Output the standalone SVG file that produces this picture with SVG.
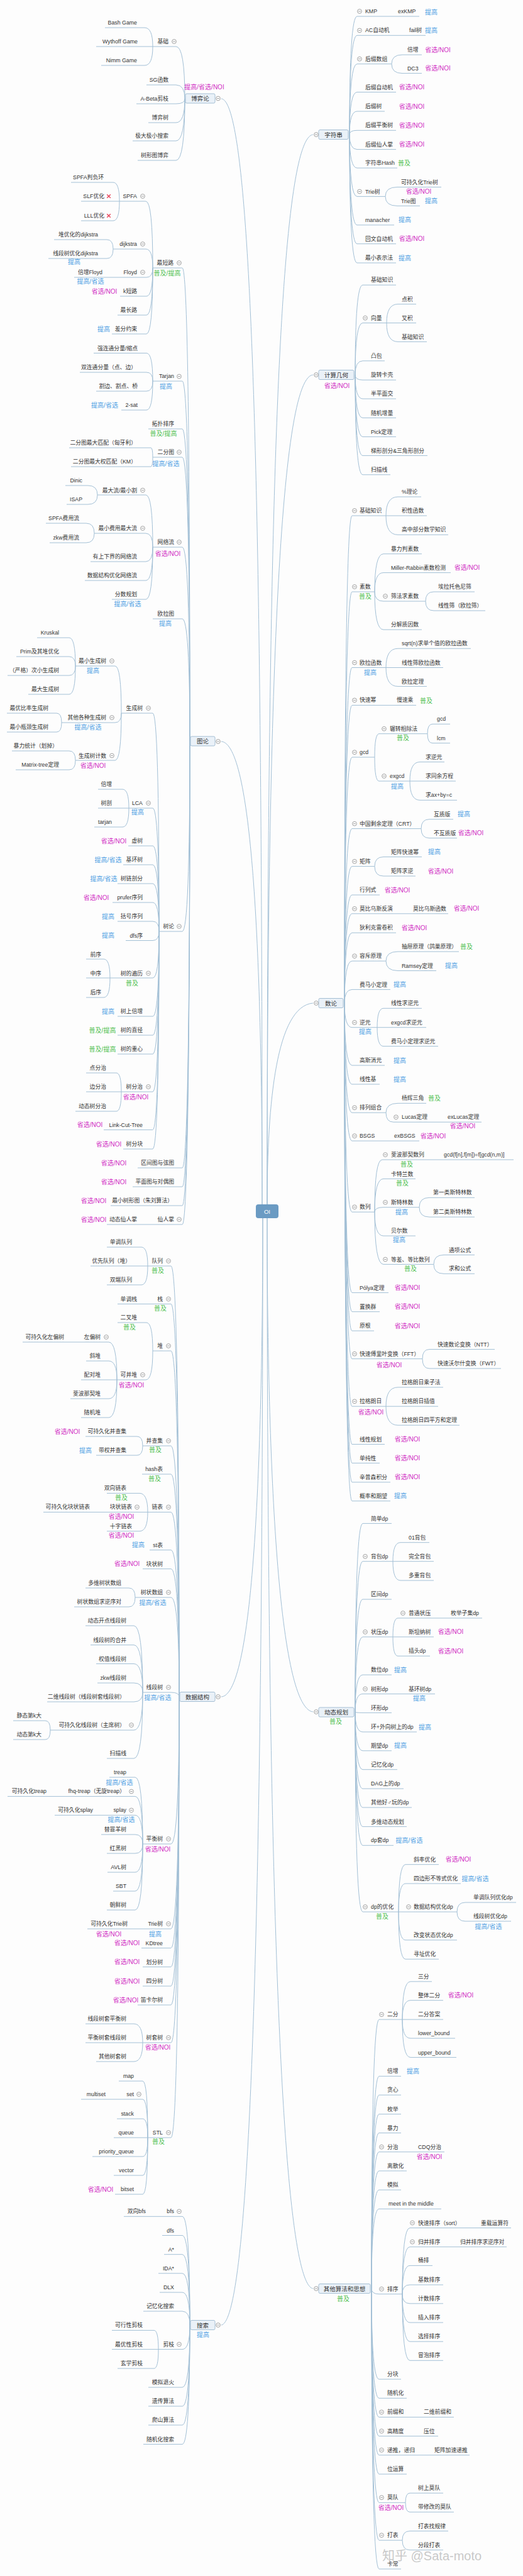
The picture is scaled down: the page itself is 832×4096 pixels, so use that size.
<svg xmlns="http://www.w3.org/2000/svg" xmlns:xlink="http://www.w3.org/1999/xlink" width="832" height="4096" viewBox="0 0 832 4096">
<style>
.t{font-family:"Liberation Sans","Noto Sans CJK SC",sans-serif;font-size:8.8px;fill:#333}
.e{text-anchor:end}
.k{font-family:"Liberation Sans","Noto Sans CJK SC",sans-serif;font-size:10px;text-anchor:middle}
.m{fill:#d12ec4}.b{fill:#4ea0e3}.g{fill:#4dbf4d}
.u{stroke:#a3c0d6;stroke-width:1;fill:none}
#cn path{stroke:#a3c0d6;stroke-width:1;fill:none}
.bx{fill:#eaf1f8;stroke:#a5bfd4;stroke-width:1}
.h{font-family:"Liberation Sans","Noto Sans CJK SC",sans-serif;font-size:9.5px;fill:#333;text-anchor:middle}
</style>
<defs>
<g id="c"><circle r="3.4" fill="#fff" stroke="#8a8a8a" stroke-width="0.8"/><path d="M-2 0H2" stroke="#8a8a8a" stroke-width="0.8"/></g>
<g id="x"><path d="M-2.8 -2.8L2.8 2.8M2.8 -2.8L-2.8 2.8" stroke="#e8485e" stroke-width="1.5"/></g>
</defs>
<rect width="832" height="4096" fill="#fdfdfd"/>
<g id="cn">
<path d="M352 157C405 160 417 900 417 1915"/>
<path d="M352 1179C400 1182 417 1500 417 1915"/>
<path d="M352 2698C405 2695 418 2300 418 1937"/>
<path d="M352 3697C400 3690 418 3000 418 1937"/>
<path d="M498 214C440 220 425 900 425 1915"/>
<path d="M498 596C440 600 425 1200 425 1915"/>
<path d="M498 1595C440 1600 425 1750 425 1915"/>
<path d="M498 2722C440 2715 425 2300 425 1937"/>
<path d="M498 3639C440 3630 425 2800 425 1937"/>
<path d="M294 157Q294 74 280 74M294 157Q294 135 280 135M294 157Q294 165 280 165M294 157Q294 195 280 195M294 157Q294 224 280 224M294 157Q294 255 280 255"/>
<path d="M243 74Q243 44 230 44M243 74Q243 104 230 104"/>
<path d="M302 1179Q302 426 290 426M302 1179Q302 606 290 606M302 1179Q302 682 290 682M302 1179Q302 727 290 727M302 1179Q302 870 290 870M302 1179Q302 984 290 984M302 1179Q302 1481 290 1481M302 1179Q302 1857 290 1857M302 1179Q302 1887 290 1887M302 1179Q302 1917 290 1917M302 1179Q302 1947 290 1947"/>
<path d="M243 426Q243 320 232 320M243 426Q243 396 232 396M243 426Q243 441 233 441M243 426Q243 471 233 471M243 426Q243 501 233 501M243 426Q243 531 233 531"/>
<path d="M190 320Q190 290 180 290M190 320Q190 351 180 351M180 396Q180 381 170 381M180 396Q180 411 170 411"/>
<path d="M243 606Q243 561.5 233 561.5M243 606Q243 592 233 592M243 606Q243 622 233 622M243 606Q243 652 233 652"/>
<path d="M243 727Q243 712 240 712M243 727Q243 742 240 742"/>
<path d="M243 870Q243 787 232 787M243 870Q243 848 232 848M243 870Q243 893 232 893M243 870Q243 923 232 923M243 870Q243 953 232 953"/>
<path d="M155 787Q155 772 140 772M155 787Q155 802 140 802M150 848Q150 832 137 832M150 848Q150 863 137 863"/>
<path d="M253 1481Q253 1134 243 1134M253 1481Q253 1285 243 1285M253 1481Q253 1345 243 1345M253 1481Q253 1375 243 1375M253 1481Q253 1405 243 1405M253 1481Q253 1435 243 1435M253 1481Q253 1465 243 1465M253 1481Q253 1495.5 243 1495.5M253 1481Q253 1555 243 1555M253 1481Q253 1616 243 1616M253 1481Q253 1646 243 1646M253 1481Q253 1676 243 1676M253 1481Q253 1736 243 1736M253 1481Q253 1796.5 243 1796.5M253 1481Q253 1827 243 1827"/>
<path d="M193 1134Q193 1059 183 1059M193 1134Q193 1149 183 1149M193 1134Q193 1209 183 1209"/>
<path d="M120 1059Q120 1014 110 1014M120 1059Q120 1044 110 1044M120 1059Q120 1074 110 1074M120 1059Q120 1104 110 1104"/>
<path d="M98 1149Q98 1134 90 1134M98 1149Q98 1164 90 1164M120 1209Q120 1194 110 1194M120 1209Q120 1224 110 1224"/>
<path d="M205 1285Q205 1255 195 1255M205 1285Q205 1315 195 1315M175 1555Q175 1525 165 1525M175 1555Q175 1586 165 1586M193 1736Q193 1706 185 1706M193 1736Q193 1767 185 1767"/>
<path d="M285 2698Q285 2013 272 2013M285 2698Q285 2073.4 272 2073.4M285 2698Q285 2148 272 2148M285 2698Q285 2299 272 2299M285 2698Q285 2344 272 2344M285 2698Q285 2404.4 272 2404.4M285 2698Q285 2464.6 272 2464.6M285 2698Q285 2494.6 272 2494.6M285 2698Q285 2540 272 2540M285 2698Q285 2691 272 2691M285 2698Q285 2932 272 2932M285 2698Q285 3067 272 3067M285 2698Q285 3097.5 272 3097.5M285 2698Q285 3127.5 272 3127.5M285 2698Q285 3158 272 3158M285 2698Q285 3188 272 3188M285 2698Q285 3248 272 3248M285 2698Q285 3399 272 3399"/>
<path d="M235 2013Q235 1983 225 1983M235 2013Q235 2043 225 2043M243 2148Q243 2103 233 2103M243 2148Q243 2194 232 2194"/>
<path d="M186 2194Q186 2134 173 2134M186 2194Q186 2164 173 2164M186 2194Q186 2224 173 2224M186 2194Q186 2254 173 2254"/>
<path d="M227 2299Q227 2284 218 2284M227 2299Q227 2314 218 2314M235 2404.4Q235 2374.4 222 2374.4M235 2404.4Q235 2434.7 222 2434.7M215 2540Q215 2525 205 2525M215 2540Q215 2555 205 2555"/>
<path d="M227 2691Q227 2585 213 2585M227 2691Q227 2615.6 213 2615.6M227 2691Q227 2645.5 213 2645.5M227 2691Q227 2676 213 2676M227 2691Q227 2706 213 2706M227 2691Q227 2751 213 2751M227 2691Q227 2796 213 2796M80 2751Q80 2736 72 2736M80 2751Q80 2766 72 2766"/>
<path d="M227 2932Q227 2826 215 2826M227 2932Q227 2856.4 215 2856.4M227 2932Q227 2886.3 215 2886.3M227 2932Q227 2917 215 2917M227 2932Q227 2947 215 2947M227 2932Q227 2977 215 2977M227 2932Q227 3007 215 3007M227 2932Q227 3037 215 3037"/>
<path d="M227 3248Q227 3218 213 3218M227 3248Q227 3278 213 3278"/>
<path d="M235 3399Q235 3309 227 3309M235 3399Q235 3338 227 3338M235 3399Q235 3369 227 3369M235 3399Q235 3429 227 3429M235 3399Q235 3459 227 3459M235 3399Q235 3489 227 3489"/>
<path d="M302 3697Q302 3524.3 290 3524.3M302 3697Q302 3554.5 290 3554.5M302 3697Q302 3584.7 290 3584.7M302 3697Q302 3614.8 290 3614.8M302 3697Q302 3645 290 3645M302 3697Q302 3675 290 3675M302 3697Q302 3735.6 290 3735.6M302 3697Q302 3796 290 3796M302 3697Q302 3826 290 3826M302 3697Q302 3856 290 3856M302 3697Q302 3886.5 290 3886.5"/>
<path d="M252 3736Q252 3705.4 245 3705.4M252 3736Q252 3766 245 3766"/>
<path d="M556 214Q556 26 568 26M556 214Q556 56.3 568 56.3M556 214Q556 101.7 568 101.7M556 214Q556 146.5 568 146.5M556 214Q556 177 568 177M556 214Q556 207.3 568 207.3M556 214Q556 237.6 568 237.6M556 214Q556 267.1 568 267.1M556 214Q556 312.4 568 312.4M556 214Q556 357.8 568 357.8M556 214Q556 387.7 568 387.7M556 214Q556 418 568 418"/>
<path d="M623 101.7Q623 87.1 640 87.1M623 101.7Q623 116.6 640 116.6M613 312.4Q613 297.5 632 297.5M613 312.4Q613 327.4 632 327.4"/>
<path d="M565 596Q565 453.2 577 453.2M565 596Q565 513.5 577 513.5M565 596Q565 573.8 577 573.8M565 596Q565 604.2 577 604.2M565 596Q565 634.1 577 634.1M565 596Q565 664.4 577 664.4M565 596Q565 694.5 577 694.5M565 596Q565 724.4 577 724.4M565 596Q565 754.8 577 754.8"/>
<path d="M615 513.5Q615 483.6 633 483.6M615 513.5Q615 543.4 633 543.4"/>
<path d="M548 1595Q548 820 560 820M548 1595Q548 941 560 941M548 1595Q548 1061.5 560 1061.5M548 1595Q548 1121.4 560 1121.4M548 1595Q548 1204 560 1204M548 1595Q548 1317.6 560 1317.6M548 1595Q548 1377.6 560 1377.6M548 1595Q548 1423 560 1423M548 1595Q548 1452.8 560 1452.8M548 1595Q548 1483.2 560 1483.2M548 1595Q548 1528.1 560 1528.1M548 1595Q548 1573.4 560 1573.4M548 1595Q548 1633.7 560 1633.7M548 1595Q548 1694 560 1694M548 1595Q548 1724 560 1724M548 1595Q548 1769.2 560 1769.2M548 1595Q548 1814.1 560 1814.1M548 1595Q548 1927.2 560 1927.2M548 1595Q548 2055.4 560 2055.4M548 1595Q548 2085.7 560 2085.7M548 1595Q548 2116.1 560 2116.1M548 1595Q548 2160.6 560 2160.6M548 1595Q548 2236.2 560 2236.2M548 1595Q548 2296.5 560 2296.5M548 1595Q548 2326.4 560 2326.4M548 1595Q548 2356.8 560 2356.8M548 1595Q548 2386.7 560 2386.7"/>
<path d="M614 820Q614 790 633 790M614 820Q614 850.3 633 850.3M596 941Q596 880.7 610 880.7M596 941Q596 910.6 610 910.6M596 941Q596 956 610 956M596 941Q596 1001.2 610 1001.2M677 956Q677 941 690 941M677 956Q677 971 690 971"/>
<path d="M614 1061.5Q614 1031.2 633 1031.2M614 1061.5Q614 1091.4 633 1091.4M596 1204Q596 1166.7 603 1166.7M596 1204Q596 1242 603 1242M680 1166.7Q680 1151.3 688 1151.3M680 1166.7Q680 1181.6 688 1181.6M652 1242Q652 1211.6 668 1211.6M652 1242Q652 1272.3 668 1272.3"/>
<path d="M670 1317.6Q670 1302.7 683 1302.7M670 1317.6Q670 1332.6 683 1332.6M596 1377.6Q596 1362.5 610 1362.5M596 1377.6Q596 1393 610 1393M614 1528.1Q614 1513.1 633 1513.1M614 1528.1Q614 1543.5 633 1543.5"/>
<path d="M600 1633.7Q600 1603.3 610 1603.3M600 1633.7Q600 1663.6 610 1663.6M614 1769.2Q614 1754.3 633 1754.3M614 1769.2Q614 1784.2 626 1784.2"/>
<path d="M596 1927.2Q596 1844 608 1844M596 1927.2Q596 1874.4 610 1874.4M596 1927.2Q596 1919.7 610 1919.7M596 1927.2Q596 1965.1 610 1965.1M596 1927.2Q596 2010.4 610 2010.4M667 1919.7Q667 1904.3 683 1904.3M667 1919.7Q667 1935.1 683 1935.1M690 2010.4Q690 1995.4 706 1995.4M690 2010.4Q690 2025.3 706 2025.3"/>
<path d="M672 2160.6Q672 2145.6 683 2145.6M672 2160.6Q672 2176 683 2176M614 2236.2Q614 2205.9 633 2205.9M614 2236.2Q614 2266.2 633 2266.2"/>
<path d="M565 2722Q565 2422.4 577 2422.4M565 2722Q565 2482.7 577 2482.7M565 2722Q565 2543 577 2543M565 2722Q565 2602.8 577 2602.8M565 2722Q565 2663.1 577 2663.1M565 2722Q565 2693.4 577 2693.4M565 2722Q565 2723.4 577 2723.4M565 2722Q565 2753.9 577 2753.9M565 2722Q565 2783.8 577 2783.8M565 2722Q565 2813.7 577 2813.7M565 2722Q565 2844.1 577 2844.1M565 2722Q565 2874 577 2874M565 2722Q565 2904.4 577 2904.4M565 2722Q565 2934.3 577 2934.3M565 2722Q565 3039.9 577 3039.9"/>
<path d="M625 2482.7Q625 2452.7 637 2452.7M625 2482.7Q625 2513 637 2513M625 2602.8Q625 2572.9 633 2572.9M625 2602.8Q625 2633.2 633 2633.2"/>
<path d="M634 3040Q634 2964.7 645 2964.7M634 3040Q634 2995 645 2995M634 3040Q634 3084.8 645 3084.8M634 3040Q634 3115.2 645 3115.2M727 3040Q727 3025 740 3025M727 3040Q727 3054.9 740 3054.9"/>
<path d="M591 3639Q591 3211.1 603 3211.1M591 3639Q591 3301.3 603 3301.3M591 3639Q591 3331.2 603 3331.2M591 3639Q591 3361.6 603 3361.6M591 3639Q591 3391.5 603 3391.5M591 3639Q591 3421.7 603 3421.7M591 3639Q591 3451.9 603 3451.9M591 3639Q591 3482.1 603 3482.1M591 3639Q591 3512.3 603 3512.3M591 3639Q591 3647.7 603 3647.7M591 3639Q591 3783.1 603 3783.1M591 3639Q591 3813.3 603 3813.3M591 3639Q591 3843.4 603 3843.4M591 3639Q591 3873.6 603 3873.6M591 3639Q591 3903.8 603 3903.8M591 3639Q591 3934 603 3934M591 3639Q591 3979.3 603 3979.3M591 3639Q591 4039.2 603 4039.2M591 3639Q591 4084.9 603 4084.9"/>
<path d="M640 3211.1Q640 3150.8 653 3150.8M640 3211.1Q640 3180.7 653 3180.7M640 3211.1Q640 3241 653 3241M640 3211.1Q640 3271.4 653 3271.4"/>
<path d="M640 3647.7Q640 3542.5 652 3542.5M640 3647.7Q640 3572.7 652 3572.7M640 3647.7Q640 3602.4 652 3602.4M640 3647.7Q640 3633 652 3633M640 3647.7Q640 3662.8 652 3662.8M640 3647.7Q640 3693 652 3693M640 3647.7Q640 3723.2 652 3723.2M640 3647.7Q640 3753.3 652 3753.3"/>
<path d="M645 3979.3Q645 3964.2 652 3964.2M645 3979.3Q645 3994.3 652 3994.3M640 4039.2Q640 4024.5 652 4024.5M640 4039.2Q640 4054.7 652 4054.7"/>
</g>

<g id="oi"><rect x="407" y="1915" width="36" height="22" rx="4" fill="#6b9bc3"/><text x="425" y="1929.5" font-family="Liberation Sans,sans-serif" font-size="9.5" fill="#fff" text-anchor="middle">OI</text></g>

<!-- 博弈论 -->
<g id="boyilun"><rect class="bx" x="295" y="149" width="47" height="15" rx="2"/><text class="h" x="318.5" y="160">博弈论</text><use href="#c" x="347" y="156.5"/><text class="k m" x="325" y="141.5">提高/省选/NOI</text></g>
<g id="jichu1"><text class="t e" x="268" y="69">基础</text><use href="#c" x="277" y="66"/><path class="u" d="M243 74H280"/></g>
<g id="bash"><text class="t e" x="218" y="39">Bash Game</text><path class="u" d="M167 44H230"/></g>
<g id="wythoff"><text class="t e" x="219" y="69">Wythoff Game</text><path class="u" d="M153 74H243"/></g>
<g id="nimm"><text class="t e" x="218" y="99">Nimm Game</text><path class="u" d="M161 104H230"/></g>
<g id="sg"><text class="t e" x="268" y="130">SG函数</text><path class="u" d="M233 135H280"/></g>
<g id="abeta"><text class="t e" x="268" y="160">A-Beta剪枝</text><path class="u" d="M217 165H280"/></g>
<g id="byshu"><text class="t e" x="268" y="190">博弈树</text><path class="u" d="M236 195H280"/></g>
<g id="jdjx"><text class="t e" x="268" y="219">极大极小搜索</text><path class="u" d="M211 224H280"/></g>
<g id="sxt"><text class="t e" x="268" y="250">树形图博弈</text><path class="u" d="M219 255H280"/></g>

<!-- 图论 -->
<g id="tulun"><rect class="bx" x="303" y="1171" width="39" height="15" rx="2"/><text class="h" x="322.5" y="1182">图论</text><use href="#c" x="347" y="1179"/></g>
<g id="zdl"><text class="t e" x="276" y="421">最短路</text><use href="#c" x="285" y="418"/><path class="u" d="M243 426H290"/><text class="k g" x="266" y="438">普及/提高</text></g>
<g id="spfa"><text class="t e" x="218" y="315">SPFA</text><use href="#c" x="227" y="312"/><path class="u" d="M190 320H232"/></g>
<g id="spfafh"><text class="t e" x="165" y="285">SPFA判负环</text><path class="u" d="M113 290H180"/></g>
<g id="slf"><text class="t e" x="166" y="315">SLF优化</text><use href="#x" x="173" y="312"/><path class="u" d="M129 320H190"/></g>
<g id="lll"><text class="t e" x="166" y="346">LLL优化</text><use href="#x" x="173" y="343"/><path class="u" d="M129 351H180"/></g>
<g id="dij"><text class="t e" x="218" y="391">dijkstra</text><use href="#c" x="227" y="388"/><path class="u" d="M180 396H232"/></g>
<g id="dijheap"><text class="t e" x="156" y="376">堆优化的dijkstra</text><path class="u" d="M86 381H170"/></g>
<g id="dijseg"><text class="t e" x="156" y="406">线段树优化dijkstra</text><path class="u" d="M77 411H170"/><text class="k b" x="118" y="420">提高</text></g>
<g id="floyd"><text class="t e" x="218" y="436">Floyd</text><use href="#c" x="227" y="433"/><path class="u" d="M118 441H233"/></g>
<g id="bzfloyd"><text class="t e" x="163" y="436">倍增Floyd</text><text class="k b" x="144" y="451">提高/省选</text></g>
<g id="kdl"><text class="t e" x="218" y="466">k短路</text><path class="u" d="M191 471H233"/><text class="k m" x="166" y="466.5">省选/NOI</text></g>
<g id="zcl"><text class="t e" x="218" y="496">最长路</text><path class="u" d="M187 501H233"/></g>
<g id="cfys"><text class="t e" x="218" y="526">差分约束</text><path class="u" d="M178 531H233"/><text class="k b" x="165" y="526.5">提高</text></g>
<g id="tarjan"><text class="t e" x="277" y="601">Tarjan</text><use href="#c" x="285" y="598.5"/><path class="u" d="M243 606H290"/><text class="k b" x="264" y="617.5">提高</text></g>
<g id="qlt"><text class="t e" x="219" y="556.5">强连通分量/缩点</text><path class="u" d="M149 561.5H233"/></g>
<g id="slt"><text class="t e" x="217" y="587">双连通分量（点、边）</text><path class="u" d="M127 592H233"/></g>
<g id="gb"><text class="t e" x="219" y="617">割边、割点、桥</text><path class="u" d="M153 622H233"/></g>
<g id="twosat"><text class="t e" x="219" y="647">2-sat</text><path class="u" d="M193 652H233"/><text class="k b" x="166.5" y="647.5">提高/省选</text></g>
<g id="tppx"><text class="t e" x="277" y="677">拓扑排序</text><path class="u" d="M236 682H290"/><text class="k g" x="260" y="692.5">普及/提高</text></g>
<g id="efts"><text class="t e" x="277" y="722">二分图</text><use href="#c" x="285" y="719"/><path class="u" d="M243 727H290"/><text class="k b" x="264" y="740.5">提高/省选</text></g>
<g id="xyl"><text class="t e" x="217" y="707">二分图最大匹配（匈牙利）</text><path class="u" d="M110 712H240"/></g>
<g id="km"><text class="t e" x="217" y="737">二分图最大权匹配（KM）</text><path class="u" d="M113 742H240"/></g>
<g id="wll"><text class="t e" x="277" y="865">网络流</text><use href="#c" x="285" y="862"/><path class="u" d="M243 870H290"/><text class="k m" x="267" y="883.5">省选/NOI</text></g>
<g id="zdll"><text class="t e" x="218" y="782.5">最大流/最小割</text><use href="#c" x="227" y="779.5"/><path class="u" d="M155 787H232"/></g>
<g id="dinic"><text class="t e" x="131" y="767">Dinic</text><path class="u" d="M104 772H140"/></g>
<g id="isap"><text class="t e" x="131" y="797">ISAP</text><path class="u" d="M106 802H140"/></g>
<g id="fyl"><text class="t e" x="218" y="843">最小费用最大流</text><use href="#c" x="227" y="840"/><path class="u" d="M150 848H232"/></g>
<g id="spfafy"><text class="t e" x="126" y="827">SPFA费用流</text><path class="u" d="M73 832H137"/></g>
<g id="zkwfy"><text class="t e" x="126" y="858">zkw费用流</text><path class="u" d="M79 863H137"/></g>
<g id="sxj"><text class="t e" x="218" y="888">有上下界的网络流</text><path class="u" d="M144 893H232"/></g>
<g id="sjjgwl"><text class="t e" x="218" y="918">数据结构优化网络流</text><path class="u" d="M135 923H232"/></g>
<g id="fsgh"><text class="t e" x="218" y="948">分数规划</text><path class="u" d="M178 953H232"/><text class="k b" x="203" y="963.5">提高/省选</text></g>
<g id="olt"><text class="t e" x="277" y="979">欧拉图</text><path class="u" d="M243 984H290"/><text class="k b" x="263" y="994.5">提高</text></g>
<g id="shulun"><text class="t e" x="277" y="1476">树论</text><use href="#c" x="285" y="1473"/><path class="u" d="M253 1481H290"/></g>
<g id="scs"><text class="t e" x="227" y="1129">生成树</text><use href="#c" x="236" y="1126"/><path class="u" d="M193 1134H243"/></g>
<g id="zxscs"><text class="t e" x="169" y="1054">最小生成树</text><use href="#c" x="178" y="1051"/><path class="u" d="M120 1059H183"/><text class="k b" x="148" y="1070">提高</text></g>
<g id="kruskal"><text class="t e" x="94" y="1009">Kruskal</text><path class="u" d="M59 1014H110"/></g>
<g id="prim"><text class="t e" x="94" y="1039">Prim及其堆优化</text><path class="u" d="M26 1044H110"/></g>
<g id="cxscs"><text class="t e" x="94" y="1069">（严格）次小生成树</text><path class="u" d="M12 1074H110"/></g>
<g id="zdscs"><text class="t e" x="94" y="1099">最大生成树</text><path class="u" d="M45 1104H110"/></g>
<g id="qtscs"><text class="t e" x="169" y="1144">其他各种生成树</text><use href="#c" x="178" y="1141"/><path class="u" d="M98 1149H183"/><text class="k b" x="140" y="1160">提高/省选</text></g>
<g id="zybl"><text class="t e" x="77" y="1129">最优比率生成树</text><path class="u" d="M11 1134H90"/></g>
<g id="zxpj"><text class="t e" x="77" y="1159">最小瓶颈生成树</text><path class="u" d="M11 1164H90"/></g>
<g id="scsjs"><text class="t e" x="169" y="1204.5">生成树计数</text><use href="#c" x="178" y="1201.5"/><path class="u" d="M120 1209H183"/><text class="k m" x="148" y="1221">省选/NOI</text></g>
<g id="bltj"><text class="t e" x="92" y="1189">暴力统计（划掉）</text><path class="u" d="M19 1194H110"/></g>
<g id="matrixtree"><text class="t e" x="94" y="1219">Matrix-tree定理</text><path class="u" d="M25 1224H110"/></g>
<g id="lca"><text class="t e" x="227" y="1280">LCA</text><use href="#c" x="236" y="1277"/><path class="u" d="M205 1285H243"/><text class="k b" x="219" y="1295">提高</text></g>
<g id="lcabz"><text class="t e" x="178" y="1250">倍增</text><path class="u" d="M156 1255H195"/></g>
<g id="lcasp"><text class="t e" x="178" y="1280">树剖</text><path class="u" d="M156 1285H205"/></g>
<g id="lcatarjan"><text class="t e" x="178" y="1310">tarjan</text><path class="u" d="M150 1315H195"/></g>
<g id="xushu"><text class="t e" x="227" y="1340">虚树</text><path class="u" d="M204 1345H243"/><text class="k m" x="181" y="1340.5">省选/NOI</text></g>
<g id="jhs"><text class="t e" x="227" y="1370">基环树</text><path class="u" d="M196 1375H243"/><text class="k b" x="172" y="1370.5">提高/省选</text></g>
<g id="slpf"><text class="t e" x="227" y="1400">树链剖分</text><path class="u" d="M187 1405H243"/><text class="k b" x="165" y="1400.5">提高/省选</text></g>
<g id="prufer"><text class="t e" x="227" y="1430">prufer序列</text><path class="u" d="M179 1435H243"/><text class="k m" x="153" y="1430.5">省选/NOI</text></g>
<g id="khxl"><text class="t e" x="227" y="1460">括号序列</text><path class="u" d="M187 1465H243"/><text class="k b" x="172" y="1461">提高</text></g>
<g id="dfsx"><text class="t e" x="227" y="1490.5">dfs序</text><path class="u" d="M200 1495.5H243"/><text class="k b" x="172" y="1491">提高</text></g>
<g id="sdbl"><text class="t e" x="227" y="1550.5">树的遍历</text><use href="#c" x="236" y="1547.5"/><path class="u" d="M175 1555H243"/><text class="k g" x="210" y="1567">普及</text></g>
<g id="qx"><text class="t e" x="161" y="1520.5">前序</text><path class="u" d="M137 1525H165"/></g>
<g id="zx"><text class="t e" x="161" y="1550.5">中序</text><path class="u" d="M137 1555H175"/></g>
<g id="hx"><text class="t e" x="161" y="1581">后序</text><path class="u" d="M137 1586H165"/></g>
<g id="ssbz"><text class="t e" x="227" y="1611">树上倍增</text><path class="u" d="M187 1616H243"/><text class="k b" x="172" y="1611.5">提高</text></g>
<g id="sdzj"><text class="t e" x="227" y="1641">树的直径</text><path class="u" d="M187 1646H243"/><text class="k g" x="163" y="1641.5">普及/提高</text></g>
<g id="sdzx"><text class="t e" x="227" y="1671">树的重心</text><path class="u" d="M187 1676H243"/><text class="k g" x="163" y="1671.5">普及/提高</text></g>
<g id="sfz"><text class="t e" x="227" y="1731">树分治</text><use href="#c" x="236" y="1728"/><path class="u" d="M193 1736H243"/><text class="k m" x="216" y="1748">省选/NOI</text></g>
<g id="dfz"><text class="t e" x="169" y="1701">点分治</text><path class="u" d="M137 1706H185"/></g>
<g id="bfz"><text class="t e" x="169" y="1731">边分治</text><path class="u" d="M137 1736H193"/></g>
<g id="dtsfz"><text class="t e" x="169" y="1762">动态树分治</text><path class="u" d="M120 1767H185"/></g>
<g id="lct"><text class="t e" x="227" y="1791.5">Link-Cut-Tree</text><path class="u" d="M165 1796.5H243"/><text class="k m" x="143" y="1792">省选/NOI</text></g>
<g id="sfk"><text class="t e" x="227" y="1822">树分块</text><path class="u" d="M196 1827H243"/><text class="k m" x="173" y="1822.5">省选/NOI</text></g>
<g id="qjt"><text class="t e" x="277" y="1852">区间图与弦图</text><path class="u" d="M219 1857H290"/><text class="k m" x="181" y="1852.5">省选/NOI</text></g>
<g id="pmt"><text class="t e" x="277" y="1882">平面图与对偶图</text><path class="u" d="M211 1887H290"/><text class="k m" x="181" y="1883">省选/NOI</text></g>
<g id="zxsxt"><text class="t e" x="275" y="1912">最小树形图（朱刘算法）</text><path class="u" d="M176 1917H290"/><text class="k m" x="149" y="1912.5">省选/NOI</text></g>
<g id="xrz"><text class="t e" x="277" y="1942">仙人掌</text><use href="#c" x="285" y="1939"/><path class="u" d="M243 1947H290"/></g>
<g id="dtxrz"><text class="t e" x="218" y="1942">动态仙人掌</text><path class="u" d="M170 1947H243"/><text class="k m" x="149" y="1942.5">省选/NOI</text></g>

<!-- 数据结构 -->
<g id="sjjg"><rect class="bx" x="286" y="2690.5" width="56" height="15" rx="2"/><text class="h" x="314" y="2701.5">数据结构</text><use href="#c" x="347" y="2698"/></g>
<g id="dl"><text class="t e" x="259" y="2008">队列</text><use href="#c" x="268" y="2005"/><path class="u" d="M235 2013H272"/><text class="k g" x="251" y="2023.5">普及</text></g>
<g id="dddl"><text class="t e" x="210" y="1978">单调队列</text><path class="u" d="M170 1983H225"/></g>
<g id="yxdl"><text class="t e" x="208" y="2008">优先队列（堆）</text><path class="u" d="M144 2013H235"/></g>
<g id="sddl"><text class="t e" x="210" y="2038">双端队列</text><path class="u" d="M170 2043H225"/></g>
<g id="zhan"><text class="t e" x="259" y="2068.5">栈</text><use href="#c" x="268" y="2065.5"/><path class="u" d="M187 2073.4H272"/><text class="k g" x="255" y="2084">普及</text><text class="t e" x="218" y="2068.5">单调栈</text></g>
<g id="dui"><text class="t e" x="259" y="2143">堆</text><use href="#c" x="268" y="2140"/><path class="u" d="M243 2148H272"/></g>
<g id="ecd"><text class="t e" x="218" y="2098">二叉堆</text><path class="u" d="M187 2103H233"/><text class="k g" x="206" y="2114">普及</text></g>
<g id="kbd"><text class="t e" x="218" y="2189">可并堆</text><use href="#c" x="227" y="2186"/><path class="u" d="M186 2194H232"/><text class="k m" x="209" y="2205.5">省选/NOI</text></g>
<g id="zps"><text class="t e" x="160" y="2129">左偏树</text><use href="#c" x="169" y="2126"/><path class="u" d="M36 2134H173"/><text class="t e" x="102" y="2129">可持久化左偏树</text></g>
<g id="xd"><text class="t e" x="160" y="2159">斜堆</text><path class="u" d="M137 2164H173"/></g>
<g id="pdd"><text class="t e" x="160" y="2189">配对堆</text><path class="u" d="M129 2194H186"/></g>
<g id="fbnqd"><text class="t e" x="160" y="2219">斐波那契堆</text><path class="u" d="M112 2224H173"/></g>
<g id="sjd"><text class="t e" x="160" y="2249">随机堆</text><path class="u" d="M129 2254H173"/></g>
<g id="bcj"><text class="t e" x="259" y="2294">并查集</text><use href="#c" x="268" y="2291"/><path class="u" d="M227 2299H272"/><text class="k g" x="247" y="2309">普及</text></g>
<g id="kcjbcj"><text class="t e" x="201" y="2279">可持久化并查集</text><path class="u" d="M136 2284H218"/><text class="k m" x="107" y="2280">省选/NOI</text></g>
<g id="dqbcj"><text class="t e" x="201" y="2309">带权并查集</text><path class="u" d="M153 2314H218"/><text class="k b" x="136" y="2310">提高</text></g>
<g id="hash"><text class="t e" x="259" y="2339">hash表</text><path class="u" d="M226 2344H272"/><text class="k g" x="246" y="2355">普及</text></g>
<g id="lb"><text class="t e" x="259" y="2399.4">链表</text><use href="#c" x="268" y="2396.4"/><path class="u" d="M235 2404.4H272"/></g>
<g id="sxlb"><text class="t e" x="201" y="2369.4">双向链表</text><path class="u" d="M170 2374.4H222"/><text class="k g" x="193" y="2384.5">普及</text></g>
<g id="kzlb"><text class="t e" x="210" y="2399.4">块状链表</text><use href="#c" x="218" y="2396.4"/><path class="u" d="M69 2404.4H235"/><text class="t e" x="143" y="2399.4">可持久化块状链表</text><text class="k m" x="193" y="2415">省选/NOI</text></g>
<g id="szlb"><text class="t e" x="210" y="2429.7">十字链表</text><path class="u" d="M170 2434.7H222"/><text class="k m" x="193" y="2445">省选/NOI</text></g>
<g id="stb"><text class="t e" x="259" y="2459.6">st表</text><path class="u" d="M238 2464.6H272"/><text class="k b" x="220" y="2460">提高</text></g>
<g id="kzs"><text class="t e" x="259" y="2489.6">块状树</text><path class="u" d="M227 2494.6H272"/><text class="k m" x="202" y="2490">省选/NOI</text></g>
<g id="szsz"><text class="t e" x="259" y="2535">树状数组</text><use href="#c" x="268" y="2532"/><path class="u" d="M215 2540H272"/><text class="k b" x="243" y="2552">提高/省选</text></g>
<g id="dwsz"><text class="t e" x="193" y="2520">多维树状数组</text><path class="u" d="M136 2525H205"/></g>
<g id="sznxd"><text class="t e" x="193" y="2550">树状数组求逆序对</text><path class="u" d="M118 2555H205"/></g>
<g id="xds"><text class="t e" x="259" y="2686">线段树</text><use href="#c" x="268" y="2683"/><path class="u" d="M227 2691H272"/><text class="k b" x="251" y="2702.5">提高/省选</text></g>
<g id="dtkd"><text class="t e" x="201" y="2580">动态开点线段树</text><path class="u" d="M136 2585H213"/></g>
<g id="xdshb"><text class="t e" x="201" y="2610.6">线段树的合并</text><path class="u" d="M144 2615.6H213"/></g>
<g id="qzxds"><text class="t e" x="201" y="2640.5">权值线段树</text><path class="u" d="M153 2645.5H213"/></g>
<g id="zkwxds"><text class="t e" x="201" y="2671">zkw线段树</text><path class="u" d="M155 2676H213"/></g>
<g id="ewxds"><text class="t e" x="199" y="2701">二维线段树（线段树套线段树）</text><path class="u" d="M75 2706H213"/></g>
<g id="zxs"><text class="t e" x="199" y="2746">可持久化线段树（主席树）</text><use href="#c" x="209" y="2743"/><path class="u" d="M80 2751H213"/></g>
<g id="jtdk"><text class="t e" x="66" y="2731">静态第k大</text><path class="u" d="M21 2736H72"/></g>
<g id="dtdk"><text class="t e" x="66" y="2761">动态第k大</text><path class="u" d="M21 2766H72"/></g>
<g id="smx1"><text class="t e" x="201" y="2791">扫描线</text><path class="u" d="M170 2796H213"/></g>
<g id="phs"><text class="t e" x="259" y="2927">平衡树</text><use href="#c" x="268" y="2924"/><path class="u" d="M227 2932H272"/><text class="k m" x="251" y="2943.5">省选/NOI</text></g>
<g id="treap"><text class="t e" x="201" y="2821">treap</text><path class="u" d="M174 2826H215"/><text class="k b" x="190" y="2837.5">提高/省选</text></g>
<g id="fhq"><text class="t e" x="199" y="2851.4">fhq-treap（无旋treap）</text><use href="#c" x="209" y="2848.5"/><path class="u" d="M12 2856.4H215"/><text class="t e" x="74" y="2851.4">可持久化treap</text></g>
<g id="splay"><text class="t e" x="201" y="2881.3">splay</text><use href="#c" x="209" y="2878.4"/><path class="u" d="M87 2886.3H215"/><text class="t e" x="148" y="2881.3">可持久化splay</text><text class="k b" x="193" y="2896.5">提高/省选</text></g>
<g id="tzys"><text class="t e" x="201" y="2912">替罪羊树</text><path class="u" d="M161 2917H215"/></g>
<g id="hhs"><text class="t e" x="201" y="2942">红黑树</text><path class="u" d="M170 2947H215"/></g>
<g id="avl"><text class="t e" x="201" y="2972">AVL树</text><path class="u" d="M171 2977H215"/></g>
<g id="sbt"><text class="t e" x="201" y="3002">SBT</text><path class="u" d="M180 3007H215"/></g>
<g id="cxs"><text class="t e" x="201" y="3032">朝鲜树</text><path class="u" d="M170 3037H215"/></g>
<g id="trie2"><text class="t e" x="259" y="3062">Trie树</text><use href="#c" x="268" y="3059"/><path class="u" d="M139 3067H272"/><text class="k b" x="247" y="3078.5">提高</text><text class="t e" x="203" y="3062">可持久化Trie树</text><text class="k m" x="173" y="3078.5">省选/NOI</text></g>
<g id="kdtree"><text class="t e" x="259" y="3092.5">KDtree</text><path class="u" d="M225 3097.5H272"/><text class="k m" x="202" y="3093">省选/NOI</text></g>
<g id="hfs"><text class="t e" x="259" y="3122.5">划分树</text><path class="u" d="M227 3127.5H272"/><text class="k m" x="202" y="3123">省选/NOI</text></g>
<g id="sfs"><text class="t e" x="259" y="3153">四分树</text><path class="u" d="M227 3158H272"/><text class="k m" x="202" y="3153.5">省选/NOI</text></g>
<g id="dkes"><text class="t e" x="259" y="3183">笛卡尔树</text><path class="u" d="M219 3188H272"/><text class="k m" x="200" y="3184">省选/NOI</text></g>
<g id="sts"><text class="t e" x="259" y="3243">树套树</text><use href="#c" x="268" y="3240"/><path class="u" d="M227 3248H272"/><text class="k m" x="251" y="3259">省选/NOI</text></g>
<g id="xdstph"><text class="t e" x="201" y="3213">线段树套平衡树</text><path class="u" d="M136 3218H213"/></g>
<g id="phstxd"><text class="t e" x="201" y="3243">平衡树套线段树</text><path class="u" d="M136 3248H227"/></g>
<g id="qtsts"><text class="t e" x="201" y="3273">其他树套树</text><path class="u" d="M153 3278H213"/></g>
<g id="stl"><text class="t e" x="259" y="3394">STL</text><use href="#c" x="268" y="3391"/><path class="u" d="M235 3399H272"/><text class="k g" x="252" y="3409">普及</text></g>
<g id="map"><text class="t e" x="213" y="3304">map</text><path class="u" d="M189 3309H227"/></g>
<g id="set"><text class="t e" x="213" y="3333">set</text><use href="#c" x="221" y="3330"/><path class="u" d="M129 3338H227"/><text class="t e" x="168" y="3333">multiset</text></g>
<g id="stack"><text class="t e" x="213" y="3364">stack</text><path class="u" d="M186 3369H227"/></g>
<g id="queue"><text class="t e" x="213" y="3394">queue</text><path class="u" d="M181 3399H235"/></g>
<g id="pq"><text class="t e" x="213" y="3424">priority_queue</text><path class="u" d="M147 3429H227"/></g>
<g id="vector"><text class="t e" x="213" y="3454">vector</text><path class="u" d="M181 3459H227"/></g>
<g id="bitset"><text class="t e" x="213" y="3484">bitset</text><path class="u" d="M183 3489H227"/><text class="k m" x="160" y="3484.5">省选/NOI</text></g>

<!-- 搜索 -->
<g id="sousuo"><rect class="bx" x="303" y="3689.5" width="39" height="15" rx="2"/><text class="h" x="322.5" y="3700.5">搜索</text><use href="#c" x="347" y="3697"/><text class="k b" x="323" y="3716">提高</text></g>
<g id="bfs"><text class="t e" x="277" y="3519.3">bfs</text><use href="#c" x="285" y="3516.3"/><path class="u" d="M197 3524.3H290"/><text class="t e" x="232" y="3519.3">双向bfs</text></g>
<g id="dfs"><text class="t e" x="277" y="3549.5">dfs</text><path class="u" d="M258 3554.5H290"/></g>
<g id="astar"><text class="t e" x="277" y="3579.7">A*</text><path class="u" d="M261 3584.7H290"/></g>
<g id="idastar"><text class="t e" x="277" y="3609.8">IDA*</text><path class="u" d="M252 3614.8H290"/></g>
<g id="dlx"><text class="t e" x="277" y="3640">DLX</text><path class="u" d="M254 3645H290"/></g>
<g id="jyhss"><text class="t e" x="277" y="3670">记忆化搜索</text><path class="u" d="M228 3675H290"/></g>
<g id="jz"><text class="t e" x="277" y="3730.6">剪枝</text><use href="#c" x="285" y="3727.6"/><path class="u" d="M252 3735.6H290"/></g>
<g id="kxxjz"><text class="t e" x="227" y="3700.4">可行性剪枝</text><path class="u" d="M178 3705.4H245"/></g>
<g id="zyxjz"><text class="t e" x="227" y="3730.6">最优性剪枝</text><path class="u" d="M178 3735.6H252"/></g>
<g id="xxjz"><text class="t e" x="227" y="3761">玄学剪枝</text><path class="u" d="M187 3766H245"/></g>
<g id="mnth"><text class="t e" x="277" y="3791">模拟退火</text><path class="u" d="M236 3796H290"/></g>
<g id="ycsf"><text class="t e" x="277" y="3821">遗传算法</text><path class="u" d="M236 3826H290"/></g>
<g id="pssf"><text class="t e" x="277" y="3851">爬山算法</text><path class="u" d="M236 3856H290"/></g>
<g id="sjhss"><text class="t e" x="277" y="3881.5">随机化搜索</text><path class="u" d="M228 3886.5H290"/></g>

<!-- 字符串 -->
<g id="zfc"><rect class="bx" x="507" y="206.5" width="47" height="15" rx="2"/><text class="h" x="530.5" y="217.5">字符串</text><use href="#c" x="503" y="214"/></g>
<g id="kmp"><use href="#c" x="572" y="18"/><text class="t" x="581" y="21">KMP</text><path class="u" d="M568 26H667"/><text class="t" x="633" y="21">exKMP</text><text class="k b" x="686" y="22.5">提高</text></g>
<g id="ac"><use href="#c" x="572" y="48.4"/><text class="t" x="581" y="51.4">AC自动机</text><path class="u" d="M568 56.3H677"/><text class="t" x="651" y="51.4">fail树</text><text class="k b" x="686" y="52">提高</text></g>
<g id="hzsz"><use href="#c" x="572" y="93.7"/><text class="t" x="581" y="96.7">后缀数组</text><path class="u" d="M568 101.7H623"/></g>
<g id="hzbz"><text class="t" x="648" y="82.2">倍增</text><path class="u" d="M640 87.1H671"/><text class="k m" x="696.5" y="82.5">省选/NOI</text></g>
<g id="dc3"><text class="t" x="648" y="111.7">DC3</text><path class="u" d="M640 116.6H671"/><text class="k m" x="696.5" y="112">省选/NOI</text></g>
<g id="hzzdj"><text class="t" x="581" y="141.6">后缀自动机</text><path class="u" d="M568 146.5H630"/><text class="k m" x="655" y="142">省选/NOI</text></g>
<g id="hzs"><text class="t" x="581" y="172">后缀树</text><path class="u" d="M568 177H612"/><text class="k m" x="655" y="172.5">省选/NOI</text></g>
<g id="hzphs"><text class="t" x="581" y="202.3">后缀平衡树</text><path class="u" d="M568 207.3H630"/><text class="k m" x="655" y="203">省选/NOI</text></g>
<g id="hzxrz"><text class="t" x="581" y="232.7">后缀仙人掌</text><path class="u" d="M568 237.6H630"/><text class="k m" x="655" y="233">省选/NOI</text></g>
<g id="zfchash"><text class="t" x="581" y="262.2">字符串Hash</text><path class="u" d="M568 267.1H632"/><text class="k g" x="643" y="262.7">普及</text></g>
<g id="trie1"><use href="#c" x="572" y="304.5"/><text class="t" x="581" y="307.5">Trie树</text><path class="u" d="M568 312.4H613"/></g>
<g id="kcjtrie"><text class="t" x="638" y="292.5">可持久化Trie树</text><path class="u" d="M632 297.5H702"/><text class="k m" x="666" y="307.5">省选/NOI</text></g>
<g id="triet"><text class="t" x="638" y="322.5">Trie图</text><path class="u" d="M632 327.4H668"/><text class="k b" x="686" y="323">提高</text></g>
<g id="manacher"><text class="t" x="581" y="352.8">manacher</text><path class="u" d="M568 357.8H627"/><text class="k b" x="644" y="353.3">提高</text></g>
<g id="hwzdj"><text class="t" x="581" y="382.8">回文自动机</text><path class="u" d="M568 387.7H630"/><text class="k m" x="655" y="383.3">省选/NOI</text></g>
<g id="zxbsf"><text class="t" x="581" y="413.1">最小表示法</text><path class="u" d="M568 418H630"/><text class="k b" x="644" y="413.6">提高</text></g>

<!-- 计算几何 -->
<g id="jsjh"><rect class="bx" x="507" y="588.5" width="56" height="15" rx="2"/><text class="h" x="535" y="599.5">计算几何</text><use href="#c" x="503" y="596"/><text class="k m" x="536" y="616.5">省选/NOI</text></g>
<g id="jhjc"><text class="t" x="590" y="448.3">基础知识</text><path class="u" d="M577 453.2H630"/></g>
<g id="xl"><use href="#c" x="581" y="505.6"/><text class="t" x="590" y="508.6">向量</text><path class="u" d="M577 513.5H615"/></g>
<g id="dj"><text class="t" x="639" y="478.7">点积</text><path class="u" d="M633 483.6H662"/></g>
<g id="cj"><text class="t" x="639" y="508.6">叉积</text><path class="u" d="M615 513.5H662"/></g>
<g id="xljc"><text class="t" x="639" y="538.5">基础知识</text><path class="u" d="M633 543.4H679"/></g>
<g id="tb"><text class="t" x="590" y="568.9">凸包</text><path class="u" d="M577 573.8H612"/></g>
<g id="xzkk"><text class="t" x="590" y="599.3">旋转卡壳</text><path class="u" d="M577 604.2H630"/></g>
<g id="bpmj"><text class="t" x="590" y="629.2">半平面交</text><path class="u" d="M577 634.1H630"/></g>
<g id="sjzl"><text class="t" x="590" y="659.5">随机增量</text><path class="u" d="M577 664.4H630"/></g>
<g id="pick"><text class="t" x="590" y="689.6">Pick定理</text><path class="u" d="M577 694.5H630"/></g>
<g id="txpf"><text class="t" x="590" y="719.5">梯形剖分&amp;三角形剖分</text><path class="u" d="M577 724.4H680"/></g>
<g id="smx2"><text class="t" x="590" y="749.9">扫描线</text><path class="u" d="M577 754.8H621"/></g>

<!-- 数论 -->
<g id="shulun2"><rect class="bx" x="507" y="1587.5" width="39" height="15" rx="2"/><text class="h" x="526.5" y="1598.5">数论</text><use href="#c" x="503" y="1595"/></g>
<g id="slzs"><use href="#c" x="564" y="812"/><text class="t" x="572" y="815">基础知识</text><path class="u" d="M560 820H614"/></g>
<g id="mod"><text class="t" x="639" y="785.1">%理论</text><path class="u" d="M633 790H670"/></g>
<g id="jxhs"><text class="t" x="639" y="815">积性函数</text><path class="u" d="M614 820H679"/></g>
<g id="gzsx"><text class="t" x="639" y="845.4">高中部分数学知识</text><path class="u" d="M633 850.3H713"/></g>
<g id="ss"><use href="#c" x="564" y="933"/><text class="t" x="572" y="936">素数</text><path class="u" d="M560 941H596"/><text class="k g" x="581" y="951.5">普及</text></g>
<g id="blpss"><text class="t" x="622" y="875.7">暴力判素数</text><path class="u" d="M610 880.7H671"/></g>
<g id="mr"><text class="t" x="622" y="905.7">Miller-Rabbin素数检测</text><path class="u" d="M610 910.6H717"/><text class="k m" x="743" y="906.2">省选/NOI</text></g>
<g id="sfqss"><use href="#c" x="613" y="948"/><text class="t" x="622" y="951">筛法求素数</text><path class="u" d="M610 956H677"/></g>
<g id="ast"><text class="t" x="697" y="936">埃拉托色尼筛</text><path class="u" d="M690 941H755"/></g>
<g id="xxs"><text class="t" x="697" y="966">线性筛（欧拉筛）</text><path class="u" d="M690 971H772"/></g>
<g id="fjzys"><text class="t" x="622" y="996.3">分解质因数</text><path class="u" d="M610 1001.2H671"/></g>
<g id="olhs"><use href="#c" x="564" y="1053.6"/><text class="t" x="572" y="1056.6">欧拉函数</text><path class="u" d="M560 1061.5H614"/><text class="k b" x="589" y="1073">提高</text></g>
<g id="sqrt"><text class="t" x="639" y="1026.2">sqrt(n)求单个值的欧拉函数</text><path class="u" d="M633 1031.2H749"/></g>
<g id="xxsol"><text class="t" x="639" y="1056.6">线性筛欧拉函数</text><path class="u" d="M614 1061.5H705"/></g>
<g id="oldl"><text class="t" x="639" y="1086.5">欧拉定理</text><path class="u" d="M633 1091.4H679"/></g>
<g id="ksm"><use href="#c" x="564" y="1113.4"/><text class="t" x="572" y="1116.4">快速幂</text><path class="u" d="M560 1121.4H662"/><text class="t" x="631" y="1116.4">慢速乘</text><text class="k g" x="678" y="1118">普及</text></g>
<g id="gcd"><use href="#c" x="564" y="1196.2"/><text class="t" x="572" y="1199.2">gcd</text><path class="u" d="M560 1204H596"/></g>
<g id="zzxc"><use href="#c" x="611" y="1158.8"/><text class="t" x="620" y="1161.8">辗转相除法</text><path class="u" d="M603 1166.7H680"/><text class="k g" x="641" y="1177">普及</text></g>
<g id="gcd2"><text class="t" x="695" y="1146.4">gcd</text><path class="u" d="M688 1151.3H716"/></g>
<g id="lcm"><text class="t" x="695" y="1176.7">lcm</text><path class="u" d="M688 1181.6H716"/></g>
<g id="exgcd"><use href="#c" x="611" y="1234"/><text class="t" x="620" y="1237">exgcd</text><path class="u" d="M603 1242H652"/><text class="k b" x="632" y="1253.5">提高</text></g>
<g id="qny"><text class="t" x="677" y="1206.7">求逆元</text><path class="u" d="M668 1211.6H707"/></g>
<g id="qtyfc"><text class="t" x="677" y="1237">求同余方程</text><path class="u" d="M652 1242H725"/></g>
<g id="qax"><text class="t" x="677" y="1267.4">求ax+by=c</text><path class="u" d="M668 1272.3H727"/></g>
<g id="crt"><use href="#c" x="564" y="1309.7"/><text class="t" x="572" y="1312.7">中国剩余定理（CRT）</text><path class="u" d="M560 1317.6H670"/></g>
<g id="hzb"><text class="t" x="690" y="1297.7">互质版</text><path class="u" d="M683 1302.7H721"/><text class="k b" x="738" y="1298.2">提高</text></g>
<g id="bhzb"><text class="t" x="690" y="1327.7">不互质版</text><path class="u" d="M683 1332.6H727"/><text class="k m" x="749" y="1328.2">省选/NOI</text></g>
<g id="jz2"><use href="#c" x="564" y="1369.7"/><text class="t" x="572" y="1372.7">矩阵</text><path class="u" d="M560 1377.6H596"/></g>
<g id="jzksm"><text class="t" x="622" y="1357.6">矩阵快速幂</text><path class="u" d="M610 1362.5H671"/><text class="k b" x="691" y="1358">提高</text></g>
<g id="jzqn"><text class="t" x="622" y="1388.1">矩阵求逆</text><path class="u" d="M610 1393H661"/><text class="k m" x="701" y="1388.6">省选/NOI</text></g>
<g id="hls"><text class="t" x="572" y="1418">行列式</text><path class="u" d="M560 1423H604"/><text class="k m" x="632" y="1418.5">省选/NOI</text></g>
<g id="mbwsfy"><use href="#c" x="564" y="1444.9"/><text class="t" x="572" y="1447.9">莫比乌斯反演</text><path class="u" d="M560 1452.8H713"/><text class="t" x="657" y="1447.9">莫比乌斯函数</text><text class="k m" x="742" y="1448.4">省选/NOI</text></g>
<g id="dlkl"><text class="t" x="572" y="1478.3">狄利克雷卷积</text><path class="u" d="M560 1483.2H630"/><text class="k m" x="659" y="1478.8">省选/NOI</text></g>
<g id="rcyl"><use href="#c" x="564" y="1520.2"/><text class="t" x="572" y="1523.2">容斥原理</text><path class="u" d="M560 1528.1H614"/></g>
<g id="ctyl"><text class="t" x="639" y="1508.2">抽屉原理（鸽巢原理）</text><path class="u" d="M633 1513.1H730"/><text class="k g" x="742" y="1508.7">普及</text></g>
<g id="ramsey"><text class="t" x="639" y="1538.6">Ramsey定理</text><path class="u" d="M633 1543.5H694"/><text class="k b" x="718" y="1539.1">提高</text></g>
<g id="fmxdl"><text class="t" x="572" y="1568.5">费马小定理</text><path class="u" d="M560 1573.4H621"/><text class="k b" x="636" y="1569">提高</text></g>
<g id="ny"><use href="#c" x="564" y="1625.8"/><text class="t" x="572" y="1628.8">逆元</text><path class="u" d="M560 1633.7H600"/><text class="k b" x="581" y="1643.8">提高</text></g>
<g id="xxqny"><text class="t" x="622" y="1598.4">线性求逆元</text><path class="u" d="M610 1603.3H671"/></g>
<g id="exgcdny"><text class="t" x="622" y="1628.8">exgcd求逆元</text><path class="u" d="M600 1633.7H678"/></g>
<g id="fmny"><text class="t" x="622" y="1658.7">费马小定理求逆元</text><path class="u" d="M610 1663.6H697"/></g>
<g id="gsxy"><text class="t" x="572" y="1689.1">高斯消元</text><path class="u" d="M560 1694H612"/><text class="k b" x="636" y="1689.6">提高</text></g>
<g id="xxj"><text class="t" x="572" y="1719">线性基</text><path class="u" d="M560 1724H604"/><text class="k b" x="636" y="1719.5">提高</text></g>
<g id="plzh"><use href="#c" x="564" y="1761.3"/><text class="t" x="572" y="1764.3">排列组合</text><path class="u" d="M560 1769.2H614"/></g>
<g id="yhsj"><text class="t" x="639" y="1749.4">杨辉三角</text><path class="u" d="M633 1754.3H678"/><text class="k g" x="691" y="1749.9">普及</text></g>
<g id="lucas"><use href="#c" x="630" y="1776.3"/><text class="t" x="639" y="1779.3">Lucas定理</text><path class="u" d="M626 1784.2H766"/><text class="t" x="712" y="1779.3">exLucas定理</text><text class="k m" x="736" y="1794">省选/NOI</text></g>
<g id="bsgs"><use href="#c" x="564" y="1806.2"/><text class="t" x="572" y="1809.2">BSGS</text><path class="u" d="M560 1814.1H667"/><text class="t" x="627" y="1809.2">exBSGS</text><text class="k m" x="689" y="1809.7">省选/NOI</text></g>
<g id="sl"><use href="#c" x="564" y="1919.3"/><text class="t" x="572" y="1922.3">数列</text><path class="u" d="M560 1927.2H596"/></g>
<g id="fbnq"><use href="#c" x="613" y="1836.1"/><text class="t" x="622" y="1839.1">斐波那契数列</text><path class="u" d="M608 1844H817"/><text class="t" x="706" y="1839.1">gcd(f[n],f[m])=f[gcd(n,m)]</text><text class="k g" x="647" y="1855">普及</text></g>
<g id="ktls"><text class="t" x="622" y="1869.5">卡特兰数</text><path class="u" d="M610 1874.4H661"/><text class="k g" x="640" y="1885.4">普及</text></g>
<g id="stls"><use href="#c" x="613" y="1911.8"/><text class="t" x="622" y="1914.8">斯特林数</text><path class="u" d="M610 1919.7H667"/><text class="k b" x="639" y="1930.7">提高</text></g>
<g id="dyl"><text class="t" x="689" y="1899.4">第一类斯特林数</text><path class="u" d="M683 1904.3H755"/></g>
<g id="del"><text class="t" x="689" y="1930.2">第二类斯特林数</text><path class="u" d="M683 1935.1H755"/></g>
<g id="bes"><text class="t" x="622" y="1960.2">贝尔数</text><path class="u" d="M610 1965.1H661"/><text class="k b" x="635" y="1975.2">提高</text></g>
<g id="dcdb"><use href="#c" x="613" y="2002.5"/><text class="t" x="622" y="2005.5">等差、等比数列</text><path class="u" d="M610 2010.4H690"/><text class="k g" x="653" y="2021">普及</text></g>
<g id="txgs"><text class="t" x="714" y="1990.5">通项公式</text><path class="u" d="M706 1995.4H755"/></g>
<g id="qhgs"><text class="t" x="714" y="2020.4">求和公式</text><path class="u" d="M706 2025.3H755"/></g>
<g id="polya"><text class="t" x="572" y="2050.5">Pólya定理</text><path class="u" d="M560 2055.4H618"/><text class="k m" x="648" y="2051">省选/NOI</text></g>
<g id="zhq"><text class="t" x="572" y="2080.8">置换群</text><path class="u" d="M560 2085.7H604"/><text class="k m" x="648" y="2081.3">省选/NOI</text></g>
<g id="yg"><text class="t" x="572" y="2111.2">原根</text><path class="u" d="M560 2116.1H595"/><text class="k m" x="648" y="2111.7">省选/NOI</text></g>
<g id="fft"><use href="#c" x="564" y="2152.7"/><text class="t" x="572" y="2155.7">快速傅里叶变换（FFT）</text><path class="u" d="M560 2160.6H672"/><text class="k m" x="619" y="2173.8">省选/NOI</text></g>
<g id="ntt"><text class="t" x="696" y="2140.7">快速数论变换（NTT）</text><path class="u" d="M683 2145.6H787"/></g>
<g id="fwt"><text class="t" x="696" y="2171">快速沃尔什变换（FWT）</text><path class="u" d="M683 2176H797"/></g>
<g id="lglr"><use href="#c" x="564" y="2228.3"/><text class="t" x="572" y="2231.3">拉格朗日</text><path class="u" d="M560 2236.2H614"/><text class="k m" x="590" y="2248.5">省选/NOI</text></g>
<g id="czf"><text class="t" x="639" y="2201">拉格朗日乘子法</text><path class="u" d="M633 2205.9H705"/></g>
<g id="czz"><text class="t" x="639" y="2231.3">拉格朗日插值</text><path class="u" d="M614 2236.2H697"/></g>
<g id="spfh"><text class="t" x="639" y="2261.3">拉格朗日四平方和定理</text><path class="u" d="M633 2266.2H731"/></g>
<g id="xxgh"><text class="t" x="572" y="2291.6">线性规划</text><path class="u" d="M560 2296.5H612"/><text class="k m" x="648" y="2292.1">省选/NOI</text></g>
<g id="dcx"><text class="t" x="572" y="2321.5">单纯性</text><path class="u" d="M560 2326.4H604"/><text class="k m" x="648" y="2322">省选/NOI</text></g>
<g id="xps"><text class="t" x="572" y="2351.9">辛普森积分</text><path class="u" d="M560 2356.8H621"/><text class="k m" x="648" y="2352.4">省选/NOI</text></g>
<g id="glqw"><text class="t" x="572" y="2381.8">概率和期望</text><path class="u" d="M560 2386.7H621"/><text class="k b" x="637" y="2382.3">提高</text></g>

<!-- 动态规划 -->
<g id="dtgh"><rect class="bx" x="507" y="2715" width="56" height="15" rx="2"/><text class="h" x="535" y="2726">动态规划</text><use href="#c" x="503" y="2722"/><text class="k g" x="534" y="2741">普及</text></g>
<g id="jddp"><text class="t" x="590" y="2417.5">简单dp</text><path class="u" d="M577 2422.4H623"/></g>
<g id="bbdp"><use href="#c" x="581" y="2474.8"/><text class="t" x="590" y="2477.8">背包dp</text><path class="u" d="M577 2482.7H625"/></g>
<g id="b01"><text class="t" x="650" y="2447.8">01背包</text><path class="u" d="M637 2452.7H683"/></g>
<g id="wqbb"><text class="t" x="650" y="2477.8">完全背包</text><path class="u" d="M625 2482.7H690"/></g>
<g id="dzbb"><text class="t" x="650" y="2508.1">多重背包</text><path class="u" d="M637 2513H690"/></g>
<g id="qjdp"><text class="t" x="590" y="2538">区间dp</text><path class="u" d="M577 2543H623"/></g>
<g id="zydp"><use href="#c" x="581" y="2594.9"/><text class="t" x="590" y="2597.9">状压dp</text><path class="u" d="M577 2602.8H625"/></g>
<g id="ptzy"><use href="#c" x="641" y="2565"/><text class="t" x="650" y="2568">普通状压</text><path class="u" d="M633 2572.9H767"/><text class="t" x="717" y="2568">枚举子集dp</text></g>
<g id="stns"><text class="t" x="650" y="2597.9">斯坦纳树</text><path class="u" d="M625 2602.8H690"/><text class="k m" x="717" y="2598.4">省选/NOI</text></g>
<g id="ctdp"><text class="t" x="650" y="2628.3">插头dp</text><path class="u" d="M633 2633.2H684"/><text class="k m" x="717" y="2628.8">省选/NOI</text></g>
<g id="swdp"><text class="t" x="590" y="2658.2">数位dp</text><path class="u" d="M577 2663.1H623"/><text class="k b" x="637" y="2658.7">提高</text></g>
<g id="sxdp"><use href="#c" x="581" y="2685.5"/><text class="t" x="590" y="2688.5">树形dp</text><path class="u" d="M577 2693.4H692"/><text class="t" x="650" y="2688.5">基环树dp</text><text class="k b" x="667" y="2704">提高</text></g>
<g id="hxdp"><text class="t" x="590" y="2718.5">环形dp</text><path class="u" d="M577 2723.4H623"/></g>
<g id="hwxs"><text class="t" x="590" y="2749">环+外向树上的dp</text><path class="u" d="M577 2753.9H663"/><text class="k b" x="676" y="2749.5">提高</text></g>
<g id="qwdp"><text class="t" x="590" y="2778.9">期望dp</text><path class="u" d="M577 2783.8H623"/><text class="k b" x="637" y="2779.4">提高</text></g>
<g id="jyhdp"><text class="t" x="590" y="2808.8">记忆化dp</text><path class="u" d="M577 2813.7H632"/></g>
<g id="dagdp"><text class="t" x="590" y="2839.2">DAG上的dp</text><path class="u" d="M577 2844.1H642"/></g>
<g id="qthwdp"><text class="t" x="590" y="2869.1">其他好♂玩的dp</text><path class="u" d="M577 2874H655"/></g>
<g id="dwdt"><text class="t" x="590" y="2899.5">多维动态规划</text><path class="u" d="M577 2904.4H647"/></g>
<g id="dptdp"><text class="t" x="590" y="2929.4">dp套dp</text><path class="u" d="M577 2934.3H626"/><text class="k b" x="651" y="2929.9">提高/省选</text></g>
<g id="dpyh"><use href="#c" x="581" y="3032"/><text class="t" x="590" y="3035">dp的优化</text><path class="u" d="M577 3040H634"/><text class="k g" x="608" y="3051.3">普及</text></g>
<g id="xlyh"><text class="t" x="658" y="2959.7">斜率优化</text><path class="u" d="M645 2964.7H698"/><text class="k m" x="729" y="2960.2">省选/NOI</text></g>
<g id="sbx"><text class="t" x="658" y="2990.1">四边形不等式优化</text><path class="u" d="M645 2995H733"/><text class="k b" x="756" y="2990.5">提高/省选</text></g>
<g id="sjjgyh"><use href="#c" x="650" y="3032"/><text class="t" x="658" y="3035">数据结构优化dp</text><path class="u" d="M634 3040H727"/></g>
<g id="dddlyh"><text class="t" x="753" y="3020">单调队列优化dp</text><path class="u" d="M740 3025H821"/></g>
<g id="xdsyh"><text class="t" x="753" y="3050">线段树优化dp</text><path class="u" d="M740 3054.9H813"/><text class="k b" x="777" y="3066.7">提高/省选</text></g>
<g id="gbzt"><text class="t" x="658" y="3079.9">改变状态优化dp</text><path class="u" d="M645 3084.8H727"/></g>
<g id="xzyh"><text class="t" x="658" y="3110.2">寻址优化</text><path class="u" d="M645 3115.2H698"/></g>

<!-- 其他算法和思想 -->
<g id="qtsf"><rect class="bx" x="507" y="3631.5" width="82" height="15" rx="2"/><text class="h" x="548" y="3642.5">其他算法和思想</text><use href="#c" x="503" y="3639"/><text class="k g" x="546" y="3658.7">普及</text></g>
<g id="ef"><use href="#c" x="607" y="3203.2"/><text class="t" x="616" y="3206.2">二分</text><path class="u" d="M603 3211.1H640"/></g>
<g id="sf3"><text class="t" x="665" y="3145.9">三分</text><path class="u" d="M653 3150.8H687"/></g>
<g id="ztef"><text class="t" x="665" y="3175.8">整体二分</text><path class="u" d="M653 3180.7H705"/><text class="k m" x="733" y="3176.3">省选/NOI</text></g>
<g id="efda"><text class="t" x="665" y="3206.2">二分答案</text><path class="u" d="M640 3211.1H705"/></g>
<g id="lower"><text class="t" x="665" y="3236.1">lower_bound</text><path class="u" d="M653 3241H724"/></g>
<g id="upper"><text class="t" x="665" y="3266.5">upper_bound</text><path class="u" d="M653 3271.4H726"/></g>
<g id="bz3"><text class="t" x="616" y="3296.4">倍增</text><path class="u" d="M603 3301.3H638"/><text class="k b" x="657" y="3296.9">提高</text></g>
<g id="tx"><text class="t" x="616" y="3326.3">贪心</text><path class="u" d="M603 3331.2H638"/></g>
<g id="mj"><text class="t" x="616" y="3356.7">枚举</text><path class="u" d="M603 3361.6H638"/></g>
<g id="bl"><text class="t" x="616" y="3386.6">暴力</text><path class="u" d="M603 3391.5H638"/></g>
<g id="fz"><use href="#c" x="607" y="3413.8"/><text class="t" x="616" y="3416.8">分治</text><path class="u" d="M603 3421.7H707"/><text class="t" x="665" y="3416.8">CDQ分治</text><text class="k m" x="683" y="3432.8">省选/NOI</text></g>
<g id="lsh"><text class="t" x="616" y="3446.9">离散化</text><path class="u" d="M603 3451.9H647"/></g>
<g id="mn"><text class="t" x="616" y="3477.1">模拟</text><path class="u" d="M603 3482.1H638"/></g>
<g id="mitm"><text class="t" x="618" y="3507.3">meet in the middle</text><path class="u" d="M603 3512.3H702"/></g>
<g id="px"><use href="#c" x="607" y="3639.7"/><text class="t" x="616" y="3642.7">排序</text><path class="u" d="M603 3647.7H640"/></g>
<g id="kspx"><use href="#c" x="656" y="3534.5"/><text class="t" x="665" y="3537.5">快速排序（sort）</text><path class="u" d="M652 3542.5H813"/><text class="t" x="765" y="3537.5">重载运算符</text></g>
<g id="gbpx"><use href="#c" x="656" y="3564.7"/><text class="t" x="665" y="3567.7">归并排序</text><path class="u" d="M652 3572.7H806"/><text class="t" x="732" y="3567.7">归并排序求逆序对</text></g>
<g id="tp"><text class="t" x="665" y="3597.4">桶排</text><path class="u" d="M652 3602.4H688"/></g>
<g id="jspx"><text class="t" x="665" y="3628">基数排序</text><path class="u" d="M652 3633H705"/></g>
<g id="jspx2"><text class="t" x="665" y="3657.8">计数排序</text><path class="u" d="M652 3662.8H705"/></g>
<g id="crpx"><text class="t" x="665" y="3688">插入排序</text><path class="u" d="M652 3693H705"/></g>
<g id="xzpx"><text class="t" x="665" y="3718.2">选择排序</text><path class="u" d="M652 3723.2H705"/></g>
<g id="mppx"><text class="t" x="665" y="3748.3">冒泡排序</text><path class="u" d="M652 3753.3H705"/></g>
<g id="fk"><text class="t" x="616" y="3778.1">分块</text><path class="u" d="M603 3783.1H638"/></g>
<g id="sjh"><text class="t" x="616" y="3808.3">随机化</text><path class="u" d="M603 3813.3H647"/></g>
<g id="qzh"><use href="#c" x="607" y="3835.4"/><text class="t" x="616" y="3838.4">前缀和</text><path class="u" d="M603 3843.4H722"/><text class="t" x="674" y="3838.4">二维前缀和</text></g>
<g id="gjd"><use href="#c" x="607" y="3865.6"/><text class="t" x="616" y="3868.6">高精度</text><path class="u" d="M603 3873.6H697"/><text class="t" x="674" y="3868.6">压位</text></g>
<g id="dt"><use href="#c" x="607" y="3895.8"/><text class="t" x="616" y="3898.8">递推，递归</text><path class="u" d="M603 3903.8H747"/><text class="t" x="691" y="3898.8">矩阵加速递推</text></g>
<g id="wys"><text class="t" x="616" y="3929">位运算</text><path class="u" d="M603 3934H647"/></g>
<g id="md"><use href="#c" x="607" y="3971.3"/><text class="t" x="616" y="3974.3">莫队</text><path class="u" d="M603 3979.3H645"/><text class="k m" x="622" y="3990.7">省选/NOI</text></g>
<g id="ssmd"><text class="t" x="665" y="3959.2">树上莫队</text><path class="u" d="M652 3964.2H705"/></g>
<g id="dxgmd"><text class="t" x="665" y="3989.3">带修改的莫队</text><path class="u" d="M652 3994.3H722"/></g>
<g id="db"><use href="#c" x="607" y="4031.2"/><text class="t" x="616" y="4034.2">打表</text><path class="u" d="M603 4039.2H640"/></g>
<g id="dbzgl"><text class="t" x="665" y="4019.5">打表找规律</text><path class="u" d="M652 4024.5H713"/></g>
<g id="fddb"><text class="t" x="665" y="4049.7">分段打表</text><path class="u" d="M652 4054.7H705"/></g>
<g id="kc"><text class="t" x="616" y="4079.9">卡常</text><path class="u" d="M603 4084.9H638"/></g>
<g id="wm"><text x="608" y="4071" font-family="Liberation Sans,Noto Sans CJK SC,sans-serif" font-size="20" fill="#9a9a9a" fill-opacity="0.55">知乎 @Sata-moto</text></g>
</svg>
